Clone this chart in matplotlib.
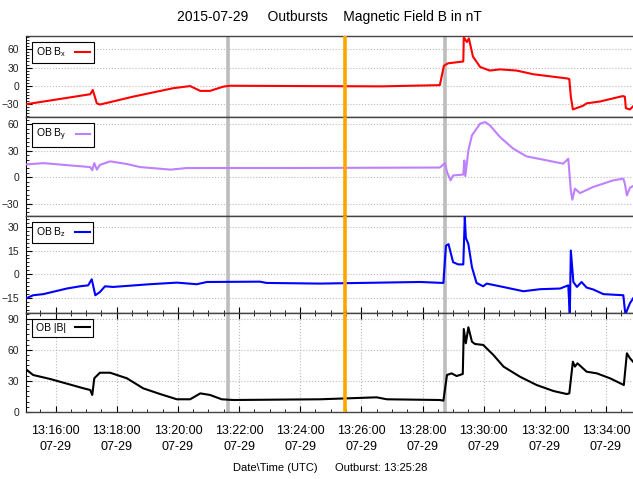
import numpy as np
import matplotlib
matplotlib.use("Agg")
import matplotlib.pyplot as plt
import matplotlib.dates as mdates
from matplotlib.ticker import MultipleLocator

plt.rcParams['font.family'] = ['Liberation Sans', 'DejaVu Sans']
plt.rcParams['mathtext.fontset'] = 'custom'
plt.rcParams['mathtext.rm'] = 'Liberation Sans'
plt.rcParams['mathtext.it'] = 'Liberation Sans:italic'
plt.rcParams['mathtext.default'] = 'regular'

T0 = np.datetime64('2015-07-29T13:15:00')

# ---------- DATA (seconds after 13:15:00 UTC, field in nT) ----------
bx_t = [2, 128, 133, 141, 147, 212, 291, 324, 344, 363, 389, 402, 540, 700, 814,
        822, 830, 860, 861, 867, 871, 879, 893, 912, 932, 965, 997, 1064, 1068,
        1071, 1075, 1095, 1102, 1128, 1173, 1177, 1179, 1187, 1193]
bx_v = [-30.5, -14, -7, -29, -31, -18, -4, -0.5, -8.5, -8.5, -1.5, 0, -0.5, -1, 1,
        33, 37, 40, 80, 72, 78, 48, 31, 25, 27, 25, 19, 12, 11,
        -18, -39, -33, -29, -26, -17, -18, -37, -39, -34]

by_t = [2, 36, 128, 132, 136, 141, 147, 167, 200, 226, 278, 285, 317, 540, 814,
        824, 828, 835, 840, 860, 862, 864, 870, 877, 893, 903, 912, 932, 958, 984,
        1024, 1056, 1066, 1071, 1074, 1079, 1089, 1115, 1154, 1174, 1177, 1181,
        1187, 1193]
by_v = [14.5, 16, 11.5, 8, 16, 8.6, 14, 18, 15, 11.5, 9, 8.6, 10.4, 10.5, 11,
        16, 6, -3.6, 2, 3, 19, 1.3, 30.5, 47.5, 60.8, 62.6, 59, 45.6, 32.4, 23.7,
        19.1, 15.4, 21, -15, -25.5, -13, -18, -11, -3.6, -1.6, -7.3, -20.6,
        -12, -10]

bz_t = [2, 16, 36, 82, 108, 124, 131, 138, 147, 157, 173, 245, 298, 337, 357,
        461, 474, 579, 775, 821, 826, 831, 840, 850, 860, 863, 865, 870, 877, 886,
        899, 906, 932, 978, 1011, 1050, 1066, 1069, 1071, 1076, 1083, 1092, 1102,
        1115, 1135, 1174, 1178, 1187, 1193]
bz_v = [-15, -13, -12.3, -8.8, -7.4, -6.8, -3, -13, -11, -7.4, -7.8, -6.1, -5.1,
        -6.1, -4.7, -4.5, -5.3, -5.7, -4.7, -5.3, 18, 19, 7.7, 6.3, 6.3, 36, 23,
        19, 4.6, -5.3, -7.4, -5.7, -7.4, -10.5, -9.2, -8.8, -6.8, -26, 15, -4.7,
        -7.8, -4.7, -8.2, -9.4, -12.3, -13, -25, -18, -15]

bt_t = [2, 16, 49, 115, 128, 132, 136, 147, 167, 200, 232, 265, 298, 324, 344,
        363, 386, 409, 579, 690, 710, 814, 821, 828, 837, 847, 859, 861, 865, 870,
        877, 883, 899, 919, 939, 971, 1004, 1037, 1063, 1068, 1075, 1079, 1084,
        1102, 1122, 1148, 1175, 1181, 1187, 1193]
bt_v = [41.3, 35.8, 32, 22.9, 21.3, 16.5, 32.6, 38, 38, 32.6, 22.9, 17.4, 12.3,
        12.3, 18, 16.5, 12.3, 11.6, 12.3, 14.2, 12.3, 11.6, 11, 35.8, 37.4, 34.8,
        36.8, 80.3, 66.5, 82, 68, 65.8, 64.9, 55.2, 43.9, 34.2, 26.1, 20.3, 17.4,
        18, 48.7, 43.9, 47.1, 39, 37.4, 32.6, 26.1, 56.8, 52, 48.7]

marker_times = ['2015-07-29T13:21:39', '2015-07-29T13:28:44']
outburst_time = '2015-07-29T13:25:28'

labels = ['OB B$_x$', 'OB B$_y$', 'OB B$_z$', 'OB |B|']
colors = ['#ff0000', '#bf80ff', '#0000ff', '#000000']
ylims = [(-52, 82), (-44, 68), (-24.3, 36.6), (0, 95.5)]
ymajor = [30, 30, 15, 30]
yminor = [5, 5, 2.5, 5]


def to_time(sec):
    return T0 + np.array(sec, dtype='int64').astype('timedelta64[s]')


series = [(bx_t, bx_v), (by_t, by_v), (bz_t, bz_v), (bt_t, bt_v)]

# ---------- BUILD FIGURE ----------
fig = plt.figure(figsize=(6.33, 4.79), dpi=100)
H = 479.0
# panel top/bottom in pixels
rows = [(36, 117.3), (117.3, 216), (216, 313.3), (313.3, 412)]
left = 26 / 633.0
width = 1.0 - left

axes = []
for i, (top, bot) in enumerate(rows):
    rect = [left, 1 - bot / H, width, (bot - top) / H]
    ax = fig.add_axes(rect, sharex=axes[0] if axes else None)
    axes.append(ax)

for i, ax in enumerate(axes):
    t, v = series[i]
    ax.plot(to_time(t), v, color=colors[i], lw=1.5, label=labels[i], zorder=3)
    for mt in marker_times:
        ax.axvline(np.datetime64(mt), color='#bdbdbd', lw=2.6, zorder=2)
    ax.axvline(np.datetime64(outburst_time), color='#ffa500', lw=2.6, zorder=4)

    ax.set_ylim(*ylims[i])
    ax.yaxis.set_major_locator(MultipleLocator(ymajor[i]))
    ax.yaxis.set_minor_locator(MultipleLocator(yminor[i]))
    ax.grid(axis='y', which='major', color='#bbbbbb', ls=':', lw=0.8)
    if i == 3:
        ax.grid(axis='x', which='major', color='#bbbbbb', ls=':', lw=0.8)

    ax.spines['right'].set_visible(False)
    ax.spines['left'].set_color('black')
    for s in ('top', 'bottom'):
        ax.spines[s].set_color('#444444')
        ax.spines[s].set_linewidth(1.0)

    ax.tick_params(axis='y', which='major', direction='in', length=4,
                   labelsize=7.5, labelcolor='#222222', pad=5)
    ax.tick_params(axis='y', which='minor', direction='in', length=2)
    ax.tick_params(axis='x', which='both', direction='in',
                   bottom=(i >= 2), top=(i == 3), labelbottom=(i == 3))
    ax.tick_params(axis='x', which='major', length=4, labelsize=9, pad=9)
    ax.tick_params(axis='x', which='minor', length=2)

    h_px = rows[i][1] - rows[i][0]
    leg = ax.legend(loc='upper left', bbox_to_anchor=(6 / 607.0, 1 - 6 / h_px),
                    borderaxespad=0, fontsize=7.5, markerfirst=False,
                    fancybox=False, framealpha=1, edgecolor='black',
                    handlelength=1.4, handletextpad=0.9, borderpad=0.35)
    leg.get_frame().set_linewidth(0.8)

ax4 = axes[3]
ax4.set_xlim(to_time([2])[0], to_time([1193])[0])
ax4.xaxis.set_major_locator(mdates.MinuteLocator(byminute=range(0, 60, 2)))
ax4.xaxis.set_minor_locator(mdates.SecondLocator(bysecond=[0, 30]))
ax4.xaxis.set_major_formatter(mdates.DateFormatter('%H:%M:%S\n%m-%d'))
for lbl in ax4.get_xticklabels():
    lbl.set_linespacing(1.55)

fig.text(329 / 633.0, 1 - 17 / H,
         '2015-07-29     Outbursts    Magnetic Field B in nT',
         ha='center', va='center', fontsize=10)
fig.text(275 / 633.0, 1 - 468 / H, 'Date\\Time (UTC)',
         ha='center', va='center', fontsize=8)
fig.text(335 / 633.0, 1 - 468 / H, 'Outburst: 13:25:28',
         ha='left', va='center', fontsize=8)

fig.savefig('out.png', dpi=100, facecolor='white')
